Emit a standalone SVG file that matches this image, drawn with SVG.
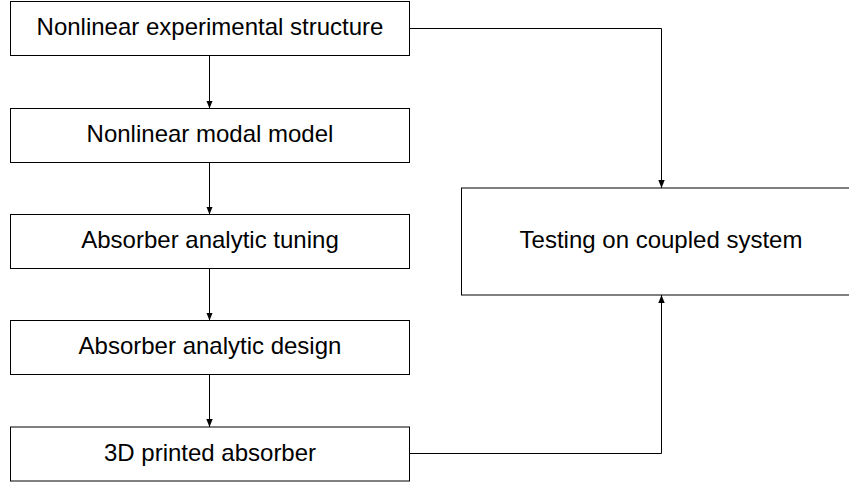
<svg xmlns="http://www.w3.org/2000/svg" width="849" height="484" viewBox="0 0 849 484">
<style>
.box{fill:#fff;stroke:#000;stroke-width:1}
.lbl{font-family:"Liberation Sans",Arial,Helvetica,sans-serif;font-size:24px;fill:#000;text-anchor:middle}
.con{fill:none;stroke:#000;stroke-width:1;marker-end:url(#ah)}
</style>
<defs>
<marker id="ah" viewBox="0 0 8 8" refX="8" refY="4" markerWidth="8" markerHeight="8" markerUnits="userSpaceOnUse" orient="auto">
<path d="M0,0.8 L8,4 L0,7.2 Z" fill="#000"/>
</marker>
</defs>
<rect width="849" height="484" fill="#fff"/>
<g id="connectors">
<path class="con" d="M209.5,55.5 V108.5"/>
<path class="con" d="M209.5,162.5 V214.5"/>
<path class="con" d="M209.5,268.5 V320.5"/>
<path class="con" d="M209.5,374.5 V427"/>
<path class="con" d="M409.5,28.5 H661.5 V188"/>
<path class="con" d="M409.5,453.5 H661.5 V295"/>
</g>
<g id="n1"><rect class="box" x="10.5" y="1.5" width="399" height="54"/><text class="lbl" x="210" y="35">Nonlinear experimental structure</text></g>
<g id="n2"><rect class="box" x="10.5" y="108.5" width="399" height="54"/><text class="lbl" x="210" y="142">Nonlinear modal model</text></g>
<g id="n3"><rect class="box" x="10.5" y="214.5" width="399" height="54"/><text class="lbl" x="210" y="248">Absorber analytic tuning</text></g>
<g id="n4"><rect class="box" x="10.5" y="320.5" width="399" height="54"/><text class="lbl" x="210" y="354">Absorber analytic design</text></g>
<g id="n5"><rect class="box" x="10.5" y="427" width="399" height="54"/><text class="lbl" x="210" y="461">3D printed absorber</text></g>
<g id="n6"><rect class="box" x="461.5" y="188" width="400" height="107"/><text class="lbl" x="661" y="248">Testing on coupled system</text></g>
</svg>
